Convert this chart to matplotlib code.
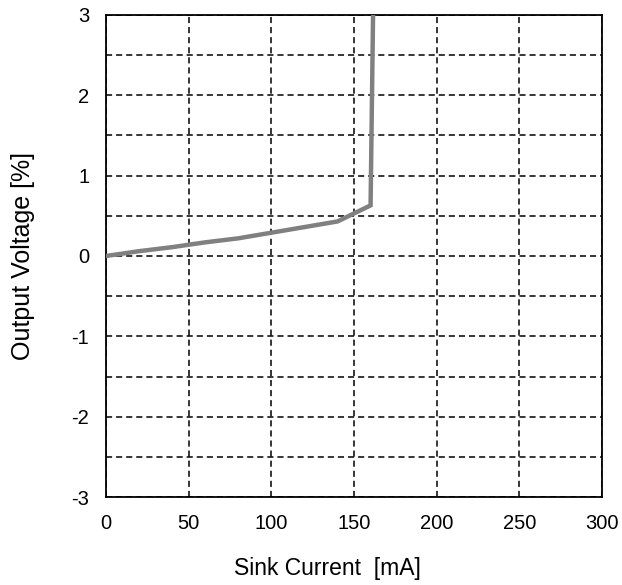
import matplotlib.pyplot as plt
import numpy as np

current = [0, 20, 40, 60, 80, 100, 120, 140, 160, 161.5]
voltage = [0.0, 0.06, 0.11, 0.17, 0.22, 0.29, 0.36, 0.43, 0.63, 3.0]

x_ticks = [0, 50, 100, 150, 200, 250, 300]
y_ticks = [-3, -2, -1, 0, 1, 2, 3]


def main():
    plt.rcParams["font.family"] = ["Liberation Sans", "DejaVu Sans"]
    fig = plt.figure(figsize=(6.22, 5.85), dpi=100)
    ax = fig.add_axes([0.1704, 0.1504, 0.7976, 0.824])

    ax.plot(current, voltage, color="#808080", linewidth=3.2, solid_joinstyle="miter", zorder=3)

    ax.set_xlim(0, 300)
    ax.set_ylim(-3, 3)
    ax.set_xticks(x_ticks)
    ax.set_yticks(np.arange(-3, 3.01, 0.5))
    ax.set_xticklabels([str(v) for v in x_ticks])
    ax.set_yticklabels([str(int(v)) if v in y_ticks else "" for v in np.arange(-3, 3.01, 0.5)])
    ax.grid(True, color="black", linestyle=(0, (4, 2.6)), linewidth=1.1)
    ax.tick_params(length=0, labelsize=14.5, pad=12)
    for s in ax.spines.values():
        s.set_linewidth(1.3)

    ax.set_xlabel("Sink Current  [mA]", fontsize=16.5)
    ax.xaxis.set_label_coords(0.446, -0.124)
    ax.xaxis.label.set_verticalalignment("top")
    ax.set_ylabel("Output Voltage [%]", fontsize=18, labelpad=26)

    fig.savefig("out.png", dpi=100)
    plt.close(fig)


if __name__ == "__main__":
    main()
